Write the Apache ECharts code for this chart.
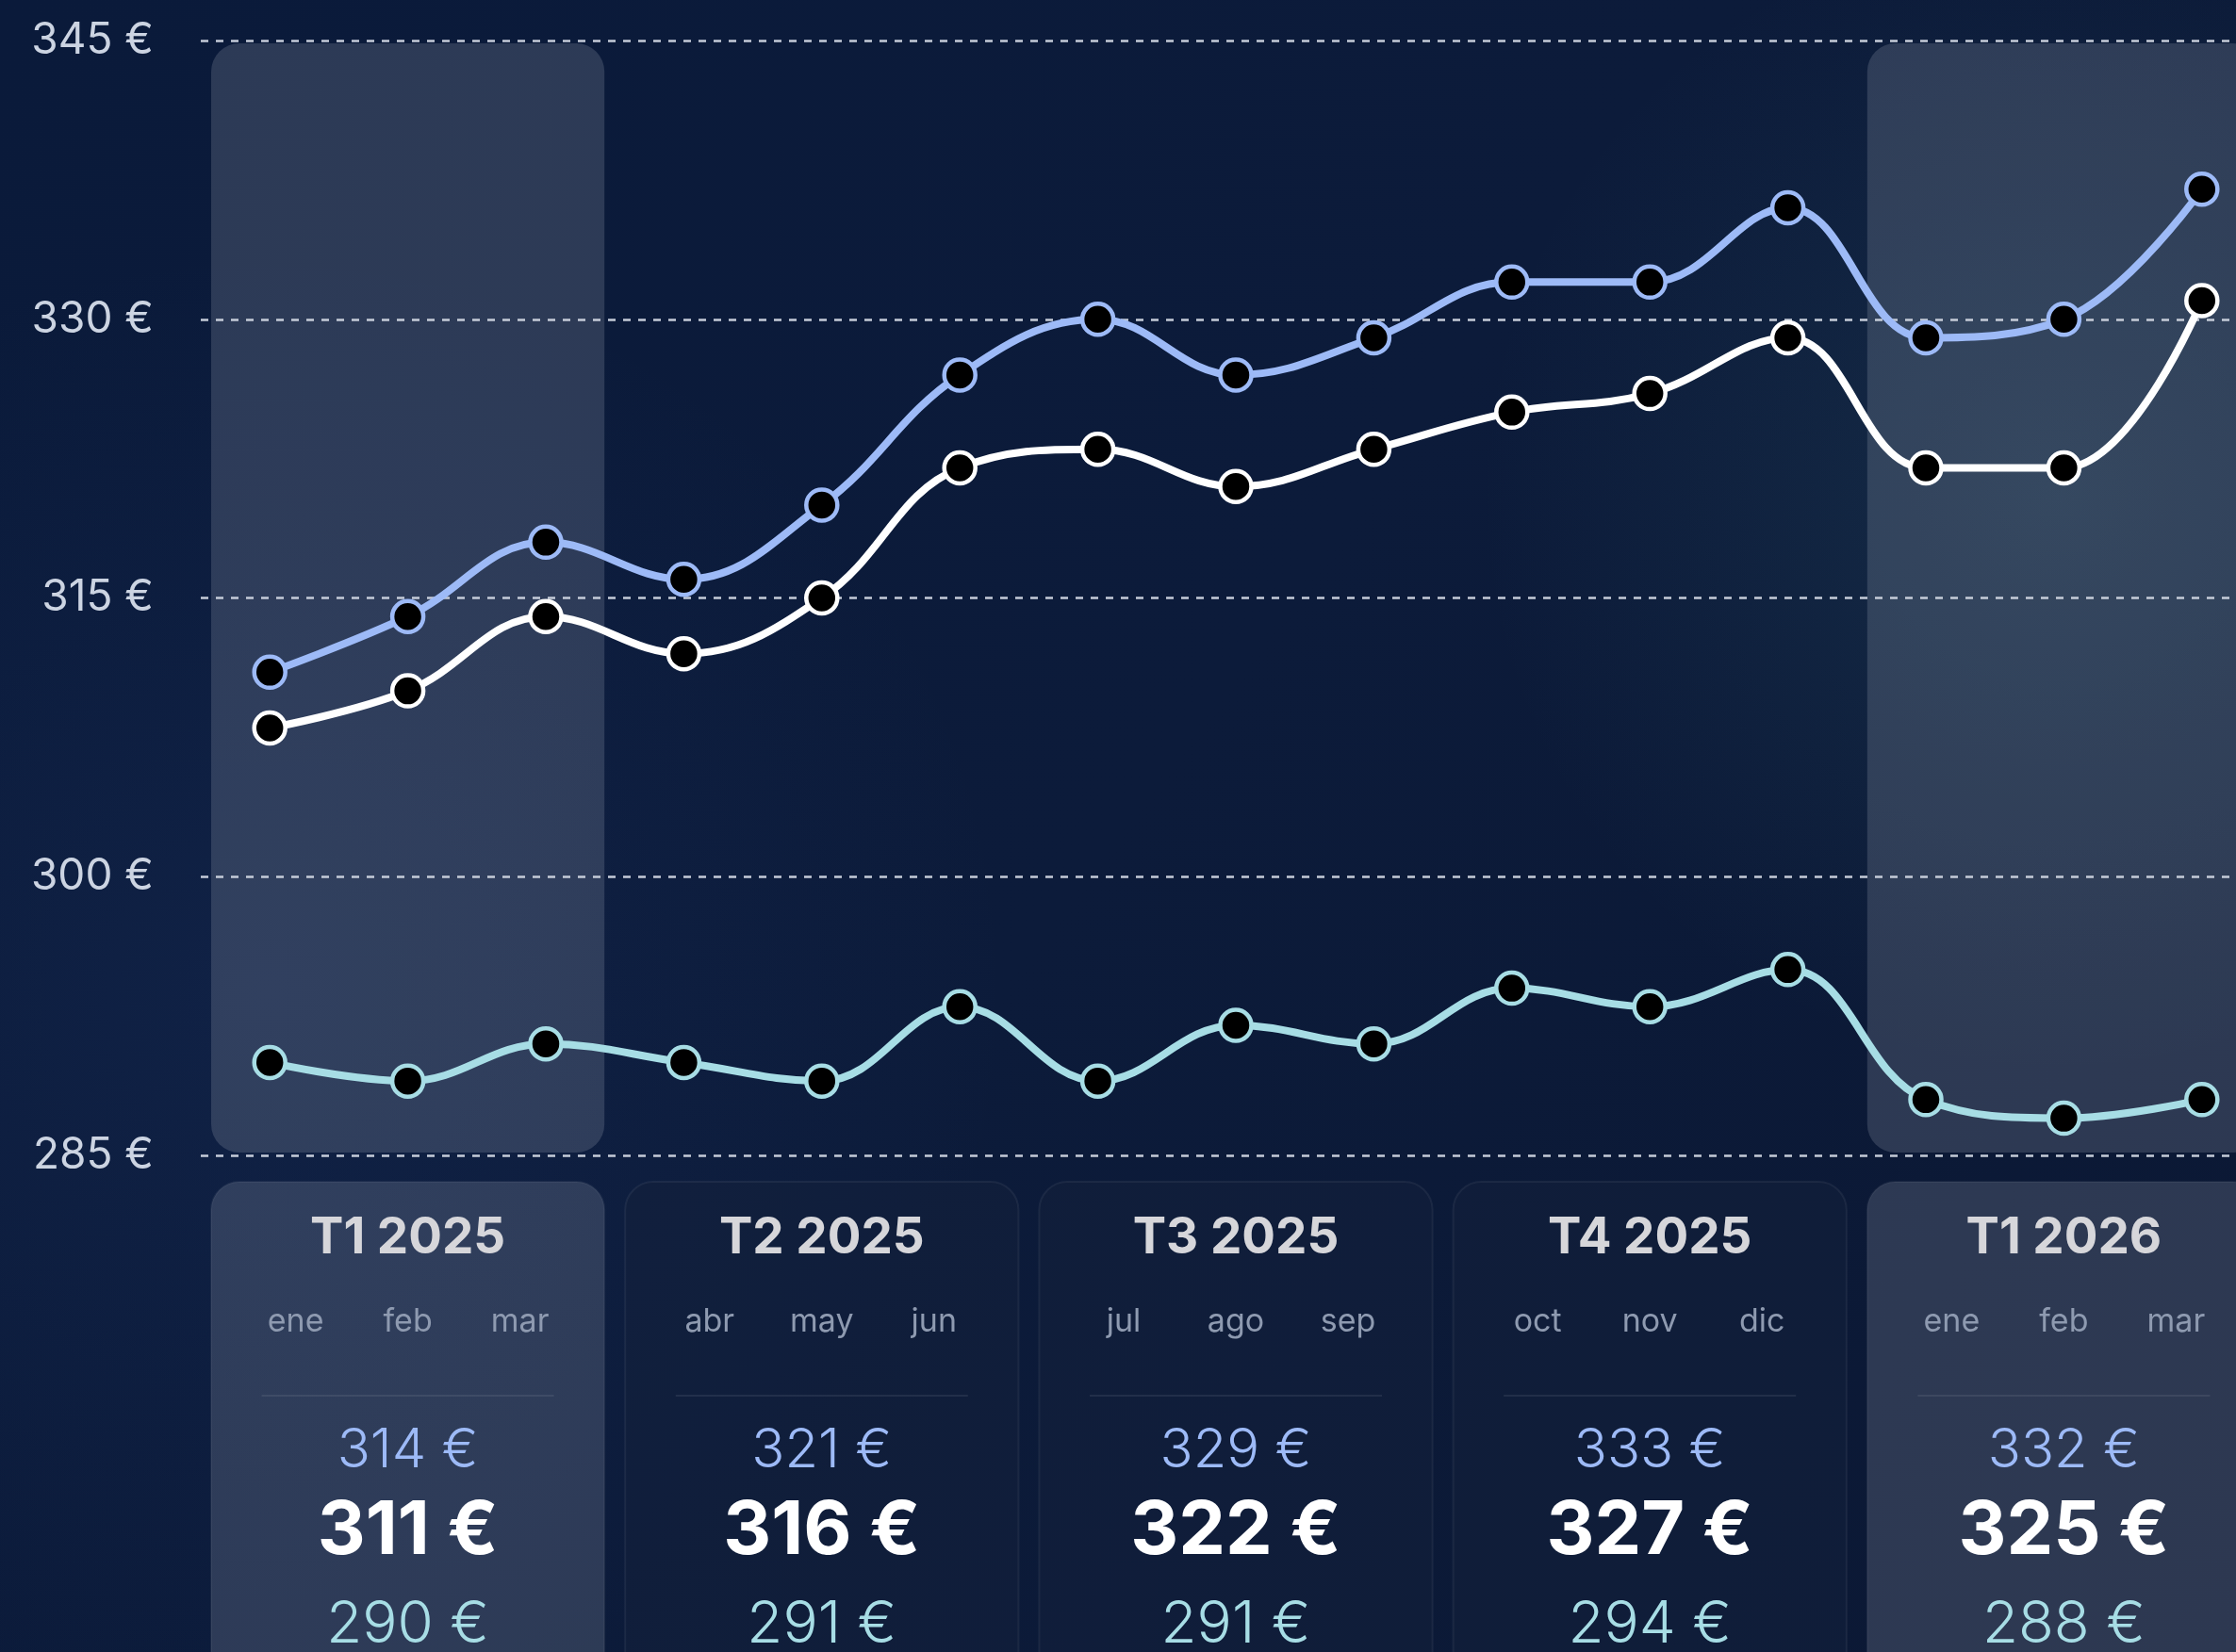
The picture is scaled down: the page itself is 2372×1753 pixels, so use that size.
<!DOCTYPE html>
<html>
<head>
<meta charset="utf-8">
<script src="https://cdn.jsdelivr.net/npm/echarts@6/dist/echarts.min.js"></script>
<style>
  html, body { margin: 0; padding: 0; background: #0b1a38; }
  #chart { width: 2372px; height: 1753px; }
</style>
</head>
<body>
<div id="chart"></div>
<script>
// meses (eje x oculto) y series
var categories = ['ene 25','feb 25','mar 25','abr 25','may 25','jun 25','jul 25','ago 25','sep 25','oct 25','nov 25','dic 25','ene 26','feb 26','mar 26'];
var serieAzul   = [311, 314, 318, 316, 320, 327, 330, 327, 329, 332, 332, 336, 329, 330, 337];
var serieBlanca = [308, 310, 314, 312, 315, 322, 323, 321, 323, 325, 326, 329, 322, 322, 331];
var serieTurq   = [290, 289, 291, 290, 289, 293, 289, 292, 291, 294, 293, 295, 288, 287, 288];

// trimestres (tarjetas inferiores)
var trimestres = ['T1 2025', 'T2 2025', 'T3 2025', 'T4 2025', 'T1 2026'];
var mesesTrim = [['ene','feb','mar'], ['abr','may','jun'], ['jul','ago','sep'], ['oct','nov','dic'], ['ene','feb','mar']];
var mediaAzul   = [314, 321, 329, 333, 332];
var mediaBlanca = [311, 316, 322, 327, 325];
var mediaTurq   = [290, 291, 291, 294, 288];
var destacado   = [true, false, false, false, true];

var yMin = 285, yMax = 345, yStep = 15;

var AZUL = '#9dbaf7', BLANCO = '#ffffff', TURQ = '#a7dde5';
var FONT = 'Inter, "Noto Sans", sans-serif';
var RESALTE = 'rgba(200,205,215,0.18)';

var chart = echarts.init(document.getElementById('chart'));

function txt(text, x, y, fill, size, weight) {
    return {
        type: 'text',
        style: {
            text: text, x: x, y: y, fill: fill,
            font: (weight || 'normal') + ' ' + size + 'px ' + FONT,
            align: 'center', verticalAlign: 'middle',
            textAlign: 'center', textVerticalAlign: 'middle'
        }
    };
}

function renderTrimestre(params, api) {
    var first = api.value(0);
    var q = api.value(1);
    var band = api.size([1, 0])[0];
    var cx = api.coord([first + 1, yMax])[0];
    var left = cx - 1.5 * band + 11;
    var w = 3 * band - 22;
    var top = api.coord([first, yMax])[1];
    var bottom = api.coord([first, yMin])[1];
    var children = [];
    if (destacado[q]) {
        children.push({
            type: 'rect',
            shape: { x: left, y: top + 3, width: w, height: bottom - top - 6, r: 30 },
            style: { fill: RESALTE }
        });
    }
    // tarjeta
    children.push({
        type: 'rect',
        shape: { x: left, y: bottom + 28, width: w, height: 600, r: 30 },
        style: destacado[q]
            ? { fill: RESALTE, stroke: 'rgba(255,255,255,0.05)', lineWidth: 2 }
            : { fill: 'rgba(20,32,60,0.55)', stroke: 'rgba(255,255,255,0.06)', lineWidth: 2 }
    });
    children.push(txt(trimestres[q], cx, bottom + 88, '#d6d6da', 53, 'bold'));
    var m = mesesTrim[q];
    children.push(txt(m[0], cx - 119, bottom + 177, '#8e9ab0', 34));
    children.push(txt(m[1], cx, bottom + 177, '#8e9ab0', 34));
    children.push(txt(m[2], cx + 119, bottom + 177, '#8e9ab0', 34));
    children.push({
        type: 'line',
        shape: { x1: cx - 155, y1: bottom + 255, x2: cx + 155, y2: bottom + 255 },
        style: { stroke: 'rgba(255,255,255,0.08)', lineWidth: 2 }
    });
    children.push(txt(mediaAzul[q] + ' €', cx, bottom + 314, AZUL, 58, 300));
    children.push(txt(mediaBlanca[q] + ' €', cx, bottom + 399, BLANCO, 79, 'bold'));
    children.push(txt(mediaTurq[q] + ' €', cx, bottom + 498, TURQ, 62, 300));
    return { type: 'group', children: children };
}

function lineSeries(name, data, color) {
    return {
        name: name,
        type: 'line',
        data: data,
        smooth: 0.4,
        z: 5,
        symbol: 'circle',
        symbolSize: 33,
        lineStyle: { color: color, width: 8 },
        itemStyle: { color: '#000000', borderColor: color, borderWidth: 4.5 }
    };
}

var trimData = trimestres.map(function (t, i) { return [i * 3, i]; });

var option = {
    backgroundColor: {
        type: 'linear', x: 0, y: 0, x2: 1, y2: 1,
        colorStops: [
            { offset: 0, color: '#0a1a3a' },
            { offset: 0.5, color: '#0c1b3a' },
            { offset: 1, color: '#0b1834' }
        ]
    },
    animation: false,
    graphic: [
        {
            type: 'rect', silent: true, z: -10,
            shape: { x: 0, y: 0, width: 2372, height: 1753 },
            style: {
                fill: {
                    type: 'radial', x: 0.12, y: 0.6, r: 0.45,
                    colorStops: [
                        { offset: 0, color: 'rgba(60,95,170,0.10)' },
                        { offset: 1, color: 'rgba(60,95,170,0)' }
                    ]
                }
            }
        },
        {
            type: 'rect', silent: true, z: -10,
            shape: { x: 0, y: 0, width: 2372, height: 1753 },
            style: {
                fill: {
                    type: 'radial', x: 0.92, y: 0.3, r: 0.35,
                    colorStops: [
                        { offset: 0, color: 'rgba(80,150,160,0.14)' },
                        { offset: 1, color: 'rgba(80,150,160,0)' }
                    ]
                }
            }
        }
    ],
    grid: { left: 213, top: 43, width: 2196, height: 1183, outerBoundsMode: 'none' },
    xAxis: {
        type: 'category',
        data: categories,
        boundaryGap: true,
        axisLine: { show: false },
        axisTick: { show: false },
        axisLabel: { show: false },
        splitLine: { show: false }
    },
    yAxis: {
        type: 'value',
        min: yMin, max: yMax, interval: yStep,
        axisLine: { show: false },
        axisTick: { show: false },
        axisLabel: {
            formatter: '{value} €',
            color: '#ccd4e2',
            fontSize: 46,
            fontFamily: FONT,
            margin: 50
        },
        splitLine: {
            lineStyle: { color: 'rgba(230,235,245,0.85)', width: 2.5, type: [8, 8] }
        }
    },
    series: [
        {
            type: 'custom',
            renderItem: renderTrimestre,
            data: trimData,
            encode: { x: 0 },
            clip: false,
            silent: true,
            z: 1
        },
        lineSeries('azul', serieAzul, AZUL),
        lineSeries('blanca', serieBlanca, BLANCO),
        lineSeries('turquesa', serieTurq, TURQ)
    ]
};

chart.setOption(option);
</script>
</body>
</html>
